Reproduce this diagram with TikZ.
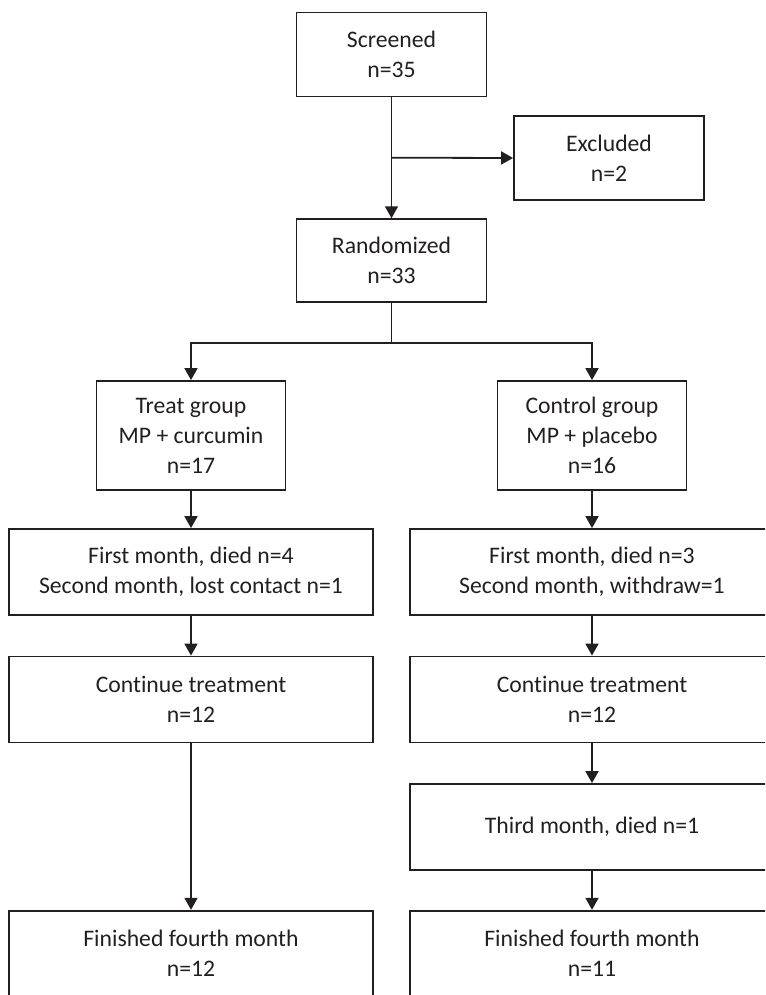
\documentclass[tikz,border=0pt]{standalone}
\usepackage{fontspec}
\setmainfont[Ligatures={NoCommon}]{Carlito}
\usetikzlibrary{arrows.meta}
\definecolor{ink}{HTML}{231F20}
\begin{document}
\begin{tikzpicture}[x=1pt,y=-1pt,
  box/.style={draw=ink, line width=1.8pt, rectangle, inner sep=0pt, align=center,
    text=ink, font=\fontsize{23.7}{30}\selectfont},
  small/.style={box, minimum width=190pt, minimum height=84pt},
  mid/.style={box, minimum width=189pt, minimum height=109pt},
  wide/.style={box, minimum width=364pt, minimum height=86pt},
  conn/.style={draw=ink, line width=1.8pt},
  arr/.style={conn, -{Triangle[length=12pt,width=13pt]}}]
\useasboundingbox (0,0) rectangle (765,995);
\clip (0,0) rectangle (765,995);
\node[small] (scr) at (391.5,54.5) {Screened\\n=35};
\node[small] (exc) at (609,158) {Excluded\\n=2};
\node[small, minimum height=83pt] (ran) at (391.5,260.7) {Randomized\\n=33};
\node[mid] (trt) at (191,435.5) {Treat group\\MP + curcumin\\n=17};
\node[mid] (ctl) at (592,435.5) {Control group\\MP + placebo\\n=16};
\node[wide] (f1L) at (191,572) {First month, died n=4\\Second month, lost contact n=1};
\node[wide] (f1R) at (592,572) {First month, died n=3\\Second month, withdraw=1};
\node[wide] (cL) at (191,699.5) {Continue treatment\\n=12};
\node[wide] (cR) at (592,699.5) {Continue treatment\\n=12};
\node[wide] (th) at (592,827) {Third month, died n=1};
\node[wide] (fL) at (191,953.7) {Finished fourth month\\n=12};
\node[wide] (fR) at (592,953.7) {Finished fourth month\\n=11};
\coordinate (j1) at (391.5,157.7);
\coordinate (j2) at (391.5,343.3);
\draw[arr] (scr.south) -- (ran.north);
\draw[arr] (j1) -- (exc.west);
\draw[conn] (ran.south) -- (j2);
\draw[arr] (j2) -| (trt.north);
\draw[arr] (j2) -| (ctl.north);
\draw[arr] (trt.south) -- (f1L.north);
\draw[arr] (ctl.south) -- (f1R.north);
\draw[arr] (f1L.south) -- (cL.north);
\draw[arr] (f1R.south) -- (cR.north);
\draw[arr] (cL.south) -- (fL.north);
\draw[arr] (cR.south) -- (th.north);
\draw[arr] (th.south) -- (fR.north);
\end{tikzpicture}
\end{document}
